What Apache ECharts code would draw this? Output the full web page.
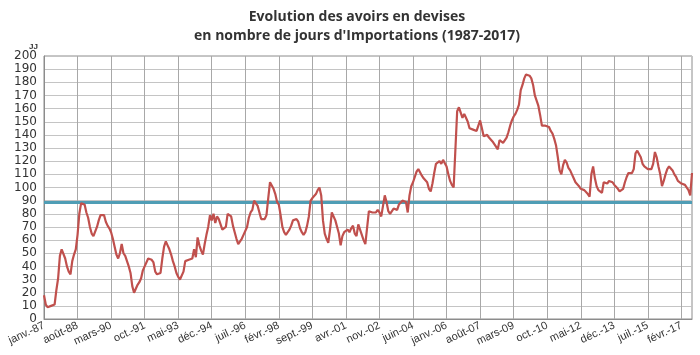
<!DOCTYPE html>
<html>
<head>
<meta charset="utf-8">
<script src="https://cdn.jsdelivr.net/npm/echarts@6/dist/echarts.min.js"></script>
<style>
html,body{margin:0;padding:0;background:#fff;}
#chart{width:700px;height:355px;}
</style>
</head>
<body>
<div id="chart"></div>
<script>
// Tick label pieces (French month abbreviations)
const monthNames = ['janv.', 'févr.', 'mars', 'avr.', 'mai', 'juin', 'juil.', 'août', 'sept.', 'oct.', 'nov.', 'déc.'];
const firstYear = 1987;
const lastYear = 2017;
const lastMonthIndex = 7; // août 2017

// Foreign reserves in days of imports, monthly values
const v1987_1991 = [
  18, 11, 9, 8, 10, 11, 11, 22, 31, 48, 53, 52,
  46, 40, 36, 34, 44, 49, 53, 64, 80, 88, 89, 87,
  81, 77, 70, 65, 63, 63, 70, 75, 79, 79, 79, 74,
  71, 69, 66, 61, 55, 49, 46, 50, 57, 50, 48, 44,
  40, 35, 25, 20, 21, 26, 28, 31, 37, 40, 41, 46
];
const v1992_1996 = [
  46, 45, 43, 36, 34, 33, 35, 46, 55, 59, 56, 53,
  49, 44, 40, 35, 32, 30, 31, 36, 44, 45, 45, 46,
  46, 53, 47, 62, 56, 52, 49, 57, 64, 70, 79, 75,
  80, 73, 78, 76, 72, 68, 68, 70, 80, 79, 78, 71,
  66, 61, 57, 58, 61, 64, 63, 70, 77, 81, 83, 90
];
const v1997_2001 = [
  88, 86, 81, 76, 77, 76, 79, 92, 104, 105, 99, 95,
  89, 87, 79, 70, 66, 64, 65, 68, 71, 75, 76, 76,
  74, 69, 66, 64, 66, 71, 78, 90, 92, 93, 95, 98,
  100, 94, 75, 65, 61, 58, 68, 81, 78, 75, 74, 65,
  56, 63, 66, 67, 68, 66, 69, 71, 65, 63, 72, 68
];
const v2002_2006 = [
  64, 60, 57, 56, 82, 83, 81, 82, 81, 83, 81, 78,
  77, 94, 89, 82, 80, 81, 84, 85, 83, 87, 87, 90,
  90, 89, 81, 94, 101, 104, 108, 112, 114, 113, 109, 107,
  107, 104, 99, 97, 103, 111, 118, 119, 120, 118, 121, 120,
  116, 110, 105, 102, 100, 99, 158, 161, 160, 153, 156, 153
];
const v2007_2011 = [
  150, 145, 144, 144, 144, 143, 144, 151, 145, 139, 139, 140,
  138, 137, 135, 134, 131, 129, 136, 136, 134, 135, 138, 142,
  147, 151, 154, 156, 159, 163, 174, 178, 183, 186, 187, 185,
  183, 178, 170, 166, 162, 155, 147, 148, 147, 146, 146, 143,
  141, 137, 132, 123, 113, 110, 117, 121, 119, 115, 113, 110
];
const v2012_2017 = [
  107, 104, 103, 101, 99, 98, 98, 97, 95, 93, 110, 116,
  107, 101, 98, 99, 96, 104, 103, 103, 105, 106, 104, 102,
  101, 99, 97, 97, 99, 104, 108, 111, 112, 111, 114, 126,
  128, 127, 123, 118, 116, 115, 114, 113, 114, 118, 127, 123,
  116, 110, 101, 105, 110, 114, 116, 116, 113, 110, 108, 105,
  106, 103, 104, 102, 101, 98, 94, 111
];
const referenceLevel = 89;

const values = [].concat(v1987_1991, v1992_1996, v1997_2001, v2002_2006, v2007_2011, v2012_2017);

const categories = [];
for (let y = firstYear; y <= lastYear; y++) {
  for (let m = 0; m < 12; m++) {
    if (y === lastYear && m > lastMonthIndex) break;
    categories.push(monthNames[m] + '-' + String(y).slice(2));
  }
}

const chart = echarts.init(document.getElementById('chart'), null, {renderer: 'canvas'});
chart.setOption({
  animation: false,
  backgroundColor: '#ffffff',
  title: [
    {
      text: 'Evolution des avoirs en devises\nen nombre de jours d\'Importations (1987-2017)',
      left: 352,
      top: 3,
      textAlign: 'center',
      textStyle: {
        fontFamily: 'Open Sans',
        fontWeight: 'bold',
        fontSize: 14,
        lineHeight: 19,
        color: '#333333'
      }
    },
    {
      text: 'JJ',
      left: 24,
      top: 38,
      textStyle: {
        fontFamily: 'Liberation Sans',
        fontWeight: 'bold',
        fontSize: 8,
        color: '#333333'
      }
    }
  ],
  grid: {
    left: 44,
    right: 8,
    top: 56,
    bottom: 36,
    show: true,
    borderColor: '#8c8c8c',
    borderWidth: 1
  },
  xAxis: {
    type: 'category',
    data: categories,
    boundaryGap: false,
    axisLine: {show: true, lineStyle: {color: '#8c8c8c', width: 1}},
    axisTick: {show: false},
    axisLabel: {
      interval: 18,
      rotate: 25,
      margin: 6,
      fontFamily: 'Liberation Sans',
      fontSize: 11,
      color: '#333333'
    },
    splitLine: {
      show: true,
      interval: 18,
      lineStyle: {color: '#a8a8a8', width: 1}
    }
  },
  yAxis: {
    type: 'value',
    min: 0,
    max: 200,
    interval: 10,
    axisLine: {show: true, lineStyle: {color: '#8c8c8c', width: 1}},
    axisTick: {show: false},
    axisLabel: {
      margin: 7,
      fontFamily: 'DejaVu Sans',
      fontSize: 12,
      color: '#333333'
    },
    splitLine: {
      show: true,
      lineStyle: {color: '#c4c4c4', width: 1}
    }
  },
  series: [
    {
      type: 'line',
      data: values,
      showSymbol: false,
      symbol: 'none',
      lineStyle: {color: '#c0504d', width: 2.2},
      z: 3,
      markLine: {
        silent: true,
        symbol: ['none', 'none'],
        label: {show: false},
        lineStyle: {color: '#4f9db5', width: 3, type: 'solid'},
        data: [{yAxis: referenceLevel}],
        z: 2
      }
    }
  ]
});
</script>
</body>
</html>
